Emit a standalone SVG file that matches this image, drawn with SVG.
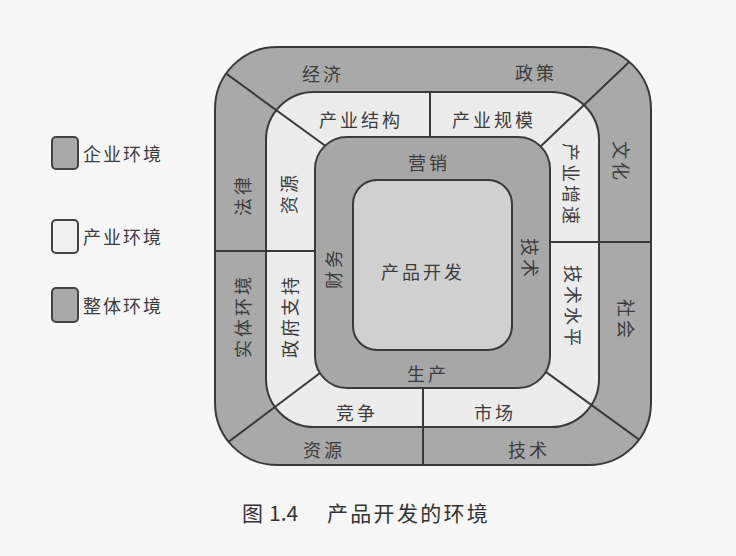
<svg xmlns="http://www.w3.org/2000/svg" width="736" height="556" viewBox="0 0 736 556">
<style>
.t{font-family:"Noto Sans CJK SC","Noto Sans",sans-serif;font-size:18px;fill:#3c3c3c;letter-spacing:3px;text-anchor:middle;dominant-baseline:central}
.lg{font-family:"Noto Sans CJK SC","Noto Sans",sans-serif;font-size:18px;fill:#3c3c3c;letter-spacing:2px;dominant-baseline:central}
.cap{font-family:"Noto Sans CJK SC","Noto Sans",sans-serif;font-size:21px;fill:#333;dominant-baseline:central}
.dark{fill:#a9a9a9}
.light{fill:#ececec}
.ln{stroke:#3a3a3a;stroke-width:2;fill:none}
</style>
<defs>
<clipPath id="outerClip"><rect x="215" y="47" width="436" height="418" rx="62" ry="62"/></clipPath>
</defs>
<rect x="0" y="0" width="736" height="556" fill="#f7f7f7"/>

<g id="legend">
<g id="legend-enterprise">
<rect x="52" y="137" width="26" height="32" rx="4" class="dark" stroke="#444" stroke-width="2"/>
<text class="lg" x="83" y="153">企业环境</text>
</g>
<g id="legend-industry">
<rect x="52" y="220" width="26" height="33" rx="4" fill="#f1f1f1" stroke="#444" stroke-width="2"/>
<text class="lg" x="83" y="236">产业环境</text>
</g>
<g id="legend-overall">
<rect x="52" y="288" width="26" height="34" rx="4" class="dark" stroke="#444" stroke-width="2"/>
<text class="lg" x="83" y="305">整体环境</text>
</g>
</g>

<g id="rings">
<rect id="outer-fill" x="215" y="47" width="436" height="418" rx="62" ry="62" class="dark"/>
<rect id="middle-fill" x="266" y="92" width="333" height="335" rx="48" ry="48" class="light"/>
</g>

<g id="connectors" clip-path="url(#outerClip)">
<line class="ln" x1="200" y1="54.6" x2="340" y2="156.5"/>
<line class="ln" x1="650" y1="42.1" x2="530" y2="156.5"/>
<line class="ln" x1="205" y1="459.6" x2="335" y2="361.7"/>
<line class="ln" x1="530" y1="360.4" x2="660" y2="454.7"/>
<line class="ln" x1="205" y1="251" x2="330" y2="251"/>
<line class="ln" x1="540" y1="242" x2="660" y2="242"/>
<line class="ln" x1="430" y1="92" x2="430" y2="150"/>
<line class="ln" x1="423" y1="380" x2="423" y2="475"/>
</g>

<g id="ring-outlines">
<rect x="215" y="47" width="436" height="418" rx="62" ry="62" class="ln"/>
<rect x="266" y="92" width="333" height="335" rx="48" ry="48" class="ln"/>
</g>

<g id="enterprise-ring">
<rect x="315" y="137" width="235" height="251" rx="32" ry="32" fill="#a7a7a7" stroke="#3a3a3a" stroke-width="2"/>
<text class="t" x="429" y="162">营销</text>
<text class="t" transform="translate(333,268) rotate(-90)">财务</text>
<text class="t" transform="translate(531,259) rotate(90)">技术</text>
<text class="t" x="428" y="373">生产</text>
</g>

<g id="core">
<rect x="353" y="180" width="159" height="170" rx="24" ry="24" fill="#d0d0d0" stroke="#3a3a3a" stroke-width="2"/>
<text class="t" x="423" y="271">产品开发</text>
</g>

<g id="overall-labels">
<text class="t" x="323" y="73">经济</text>
<text class="t" x="536" y="72">政策</text>
<text class="t" transform="translate(242,195) rotate(-90)">法律</text>
<text class="t" transform="translate(242,316) rotate(-90)">实体环境</text>
<text class="t" transform="translate(622,162) rotate(90)">文化</text>
<text class="t" transform="translate(627,320) rotate(90)">社会</text>
<text class="t" x="324" y="449">资源</text>
<text class="t" x="529" y="449">技术</text>
</g>

<g id="industry-labels">
<text class="t" x="361" y="119">产业结构</text>
<text class="t" x="494" y="119">产业规模</text>
<text class="t" transform="translate(288,193) rotate(-90)">资源</text>
<text class="t" transform="translate(289,316) rotate(-90)">政府支持</text>
<text class="t" transform="translate(572,185) rotate(90)">产业增速</text>
<text class="t" transform="translate(574,307) rotate(90)">技术水平</text>
<text class="t" x="357" y="412">竞争</text>
<text class="t" x="495" y="412">市场</text>
</g>

<g id="caption">
<text class="cap" x="242" y="512">图</text>
<text class="cap" x="269" y="512">1.4</text>
<text class="cap" x="327" y="512" style="letter-spacing:2.3px">产品开发的环境</text>
</g>
</svg>
